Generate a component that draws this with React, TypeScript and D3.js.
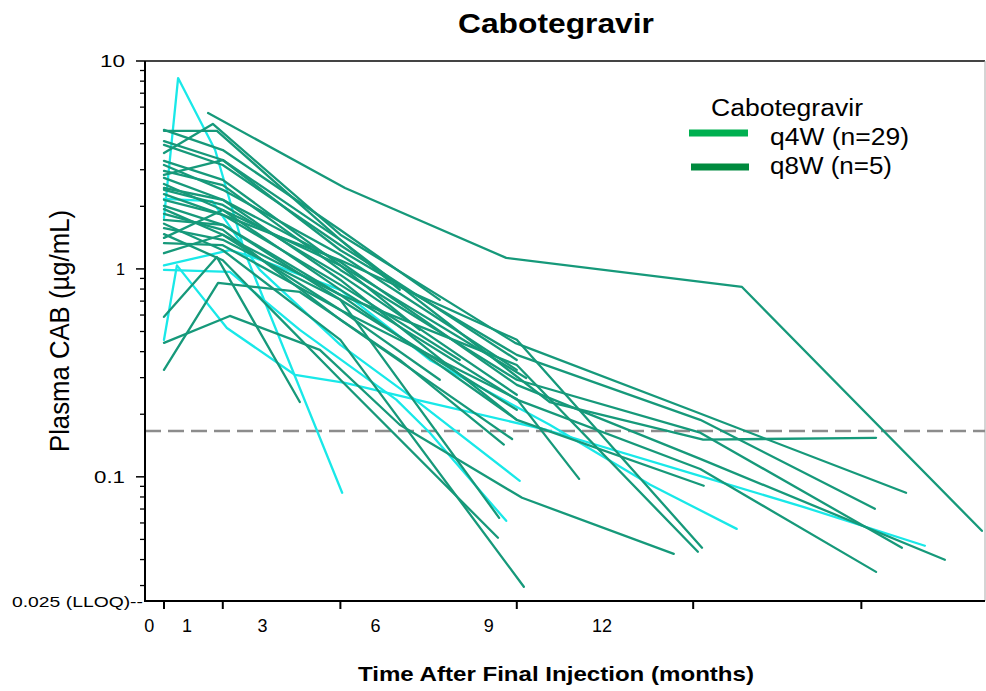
import React from 'react';
import * as d3 from 'd3';

type Pt = [number, number];

// x tick marks (months) and separately positioned tick labels
const xTickValues = [0, 1, 3, 6, 9, 11.86];
const xTickLabels = ['0', '1', '3', '6', '9', '12'];
const xLabelMonths = [0, 1, 3, 6, 9, 12];
const yMajorTicks = [10, 1, 0.1];
const yMajorLabels = ['10', '1', '0.1'];
const lloqValue = 0.025;
const thresholdValue = 0.166;
const legendTitle = 'Cabotegravir';
const legendLabels = ['q4W (n=29)', 'q8W (n=5)'];

// Individual profiles: [months after final injection, plasma CAB ug/mL]
const q4wProfiles: Pt[][] = [
  [[0.75, 5.62], [3.08, 2.45], [5.82, 1.13], [9.83, 0.819], [13.91, 0.055]],
  [[0, 4.61], [0.9, 4.61], [3, 1.38], [6.56, 0.229], [9.17, 0.151], [12.11, 0.154]],
  [[0, 3.61], [0.83, 4.98], [3, 1.46], [5.97, 0.441], [9.05, 0.205], [12.62, 0.0838]],
  [[0, 4.12], [1, 3.34], [3, 1.23], [6, 0.386], [9.12, 0.188], [12.09, 0.0702]],
  [[0, 2.96], [1, 2.53], [3, 0.989], [6, 0.293], [9.12, 0.163], [12.55, 0.0456]],
  [[0, 2.74], [1, 2.15], [3, 1.08], [6, 0.277], [9.12, 0.122], [13.28, 0.0399]],
  [[0, 2.56], [1, 1.92], [3, 0.793], [6, 0.235], [9.12, 0.109], [12.11, 0.0349]],
  [[0, 2.45], [1, 2.15], [3, 0.885], [6, 0.188], [9.18, 0.0906]],
  [[0, 2.29], [1, 1.82], [3, 1.1], [6, 0.456], [9.15, 0.0456]],
  [[0, 2.01], [1, 1.63], [3, 0.75], [6, 0.345], [9.08, 0.0436]],
  [[0, 1.94], [1, 1.46], [3, 0.635], [6, 0.237], [7.06, 0.0978]],
  [[0, 1.65], [1, 1.23], [3, 0.456], [6.12, 0.0296]],
  [[0, 3.31], [1, 2.68], [3, 1.04], [6.16, 0.299]],
  [[0, 1.57], [1, 1.38], [3, 0.71], [5.7, 0.0635]],
  [[0, 1.47], [1, 1.1], [3, 0.293], [5.68, 0.0509]],
  [[0, 1.84], [1, 1.54], [3, 0.569], [5.92, 0.152]],
  [[0, 0.588], [0.9, 1.14], [2.31, 0.229]],
  [[0, 0.441], [1.12, 0.594], [2.65, 0.408], [4.01, 0.178], [6.09, 0.0793], [8.67, 0.0426]],
  [[0, 0.327], [0.92, 0.856], [2.31, 0.775], [4.01, 0.365], [5.78, 0.143]],
  [[0, 4.66], [1, 3.73], [3, 1.54], [4.69, 0.71]],
  [[0, 3.95], [1, 3.16], [3, 1.3], [6, 0.365]],
  [[0, 3.16], [1, 2.4], [3, 1.17], [6, 0.327]],
  [[0, 2.4], [1, 2.03], [3, 0.936], [6, 0.248]],
  [[0, 2.15], [1, 1.82], [3, 0.838], [5.03, 0.365]],
  [[0, 1.72], [1, 1.63], [3, 0.71], [6, 0.21]],
  [[0, 1.33], [1, 1.3], [3, 0.635], [4.69, 0.293]],
  [[0, 1.19], [1, 1.46], [3, 0.75], [6, 0.188]],
  [[0, 1.41], [1, 1.92], [3, 1.04], [4.35, 0.509]],
  [[0, 2.83], [1, 3.34], [3, 1.38], [4.01, 0.793]],
];

const q8wProfiles: Pt[][] = [
  [[0, 1.76], [0.24, 8.28], [0.87, 3.73], [1.38, 1.19], [3.03, 0.0838]],
  [[0, 2.17], [0.82, 2.12], [1.63, 0.989], [3, 0.431], [4.27, 0.235], [6.05, 0.0957]],
  [[0, 0.989], [1.12, 0.967], [2.31, 0.509], [3.95, 0.235], [4.52, 0.163], [5.82, 0.0614]],
  [[0, 1.04], [1.12, 1.23], [1.51, 1.14], [3, 0.793], [4.52, 0.365], [6.56, 0.178], [8.27, 0.0916], [9.74, 0.0562]],
  [[0, 0.456], [0.22, 1.04], [1.07, 0.52], [2.23, 0.309], [3.08, 0.283], [4.52, 0.227], [6.51, 0.168], [9.17, 0.1], [10.87, 0.0717], [12.94, 0.0466]],
];

const FONT = "'Liberation Sans', Arial, Helvetica, sans-serif";
const GREEN = '#16997a';
const CYAN = '#19e8e8';

export default function App() {
  const W = 986;
  const H = 691;
  const left = 145;
  const right = 985;
  const top = 61;
  const bottom = 602;

  const x = d3.scaleLinear().domain([-0.323, 13.963]).range([left, right]);
  const xl = d3.scaleLinear().domain([0, 12]).range([149.3, 601.9]);
  const y = d3.scaleLog().domain([lloqValue, 10]).range([bottom, top]);

  const line = d3
    .line<Pt>()
    .x((d) => x(d[0]))
    .y((d) => y(d[1]));

  const minorTicks: number[] = [];
  [0.01, 0.1, 1].forEach((dec) => {
    for (let k = 2; k <= 9; k++) {
      const v = dec * k;
      if (v > lloqValue && v < 10) minorTicks.push(v);
    }
  });

  const axisY = bottom - 1;
  const yLabelWidths = [25, 9, 31];

  return (
    <svg
      width={W}
      height={H}
      style={{ position: 'absolute', left: 0, top: 0, background: '#fff' }}
      fontFamily={FONT}
    >
      <rect x={0} y={0} width={W} height={H} fill="#fff" />
      {/* Title */}
      <text x={556} y={33} textAnchor="middle" fontSize={27} fontWeight="bold" textLength={196} lengthAdjust="spacingAndGlyphs">
        Cabotegravir
      </text>

      {/* frame top/right */}
      <line x1={left} x2={right} y1={top} y2={top} stroke="#444" strokeWidth={1.8} />
      <line x1={right} x2={right} y1={top} y2={axisY} stroke="#aaa" strokeWidth={1} />

      {/* threshold dashed line */}
      <line
        x1={left}
        x2={right}
        y1={y(thresholdValue)}
        y2={y(thresholdValue)}
        stroke="#8c8c8c"
        strokeWidth={2.5}
        strokeDasharray="16 7"
      />

      {/* profiles */}
      <g fill="none" strokeLinejoin="round" strokeLinecap="round">
        {q8wProfiles.map((p, i) => (
          <path key={'c' + i} d={line(p) || ''} stroke={CYAN} strokeWidth={2.3} />
        ))}
        {q4wProfiles.map((p, i) => (
          <path key={'g' + i} d={line(p) || ''} stroke={GREEN} strokeWidth={2.3} />
        ))}
      </g>

      {/* axes */}
      <line x1={left} x2={left} y1={top} y2={axisY + 1} stroke="#000" strokeWidth={2} />
      <line x1={left - 1} x2={right} y1={axisY} y2={axisY} stroke="#000" strokeWidth={2} />

      {yMajorTicks.map((t) => (
        <line key={'M' + t} x1={left - 9} x2={left} y1={y(t)} y2={y(t)} stroke="#000" strokeWidth={1.5} />
      ))}
      {minorTicks.map((t) => (
        <line key={'m' + t} x1={left - 5} x2={left} y1={y(t)} y2={y(t)} stroke="#000" strokeWidth={1.3} />
      ))}
      {yMajorTicks.map((t, i) => (
        <text
          key={'L' + t}
          x={125}
          y={y(t) + 6}
          textAnchor="end"
          fontSize={17}
          textLength={yLabelWidths[i]}
          lengthAdjust="spacingAndGlyphs"
        >
          {yMajorLabels[i]}
        </text>
      ))}
      <text x={12} y={y(lloqValue) + 5} fontSize={14.5} textLength={131} lengthAdjust="spacingAndGlyphs">
        {'0.025 (LLOQ)--'}
      </text>

      {xTickValues.map((t) => (
        <line key={'xt' + t} x1={x(t)} x2={x(t)} y1={axisY} y2={axisY + 8} stroke="#000" strokeWidth={2} />
      ))}
      {xLabelMonths.map((m, i) => (
        <text key={'xl' + m} x={xl(m)} y={632} textAnchor="middle" fontSize={18}>
          {xTickLabels[i]}
        </text>
      ))}

      <text x={556} y={681} textAnchor="middle" fontSize={20.5} fontWeight="bold" textLength={396} lengthAdjust="spacingAndGlyphs">
        Time After Final Injection (months)
      </text>
      <text
        transform="translate(69,331) scale(1.3,1) rotate(-90)"
        textAnchor="middle"
        fontSize={21}
        textLength={242}
        lengthAdjust="spacingAndGlyphs"
      >
        Plasma CAB (µg/mL)
      </text>

      {/* legend */}
      <text x={711} y={116} fontSize={23} textLength={152} lengthAdjust="spacingAndGlyphs">
        {legendTitle}
      </text>
      <line x1={689} x2={748} y1={133} y2={133} stroke="#00b050" strokeWidth={7} />
      <text x={770} y={145} fontSize={23} textLength={139} lengthAdjust="spacingAndGlyphs">
        {legendLabels[0]}
      </text>
      <line x1={691} x2={749} y1={167} y2={167} stroke="#008a3e" strokeWidth={7} />
      <text x={770} y={174} fontSize={23} textLength={122} lengthAdjust="spacingAndGlyphs">
        {legendLabels[1]}
      </text>
    </svg>
  );
}
